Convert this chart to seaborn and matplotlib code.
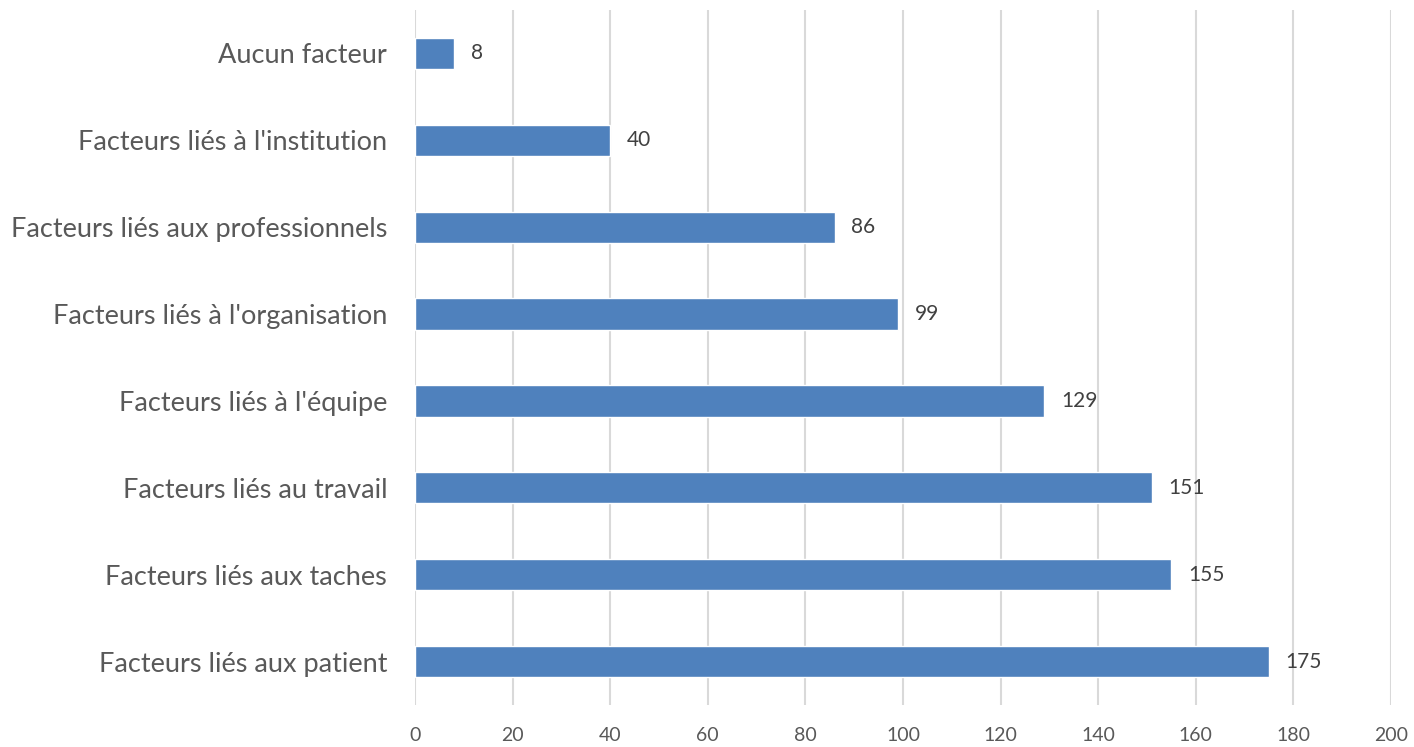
import matplotlib
matplotlib.use("Agg")
import matplotlib.pyplot as plt
import seaborn as sns
import pandas as pd

categories = [
    "Aucun facteur",
    "Facteurs liés à l'institution",
    "Facteurs liés aux professionnels",
    "Facteurs liés à l'organisation",
    "Facteurs liés à l'équipe",
    "Facteurs liés au travail",
    "Facteurs liés aux taches",
    "Facteurs liés aux patient",
]
values = [8, 40, 86, 99, 129, 151, 155, 175]
xticks = [0, 20, 40, 60, 80, 100, 120, 140, 160, 180, 200]

sns.set_theme(style="white")
plt.rcParams['font.family'] = ['Lato', 'DejaVu Sans']

df = pd.DataFrame({"cat": categories, "val": values})

fig = plt.figure(figsize=(14.14, 7.47), dpi=100)
ax = fig.add_axes([0.2935, 0.0562, 0.6902, 0.9304])
sns.barplot(data=df, y="cat", x="val", orient="h", color="#4F81BD",
            width=0.36, saturation=1, ax=ax, zorder=3)

ax.set_xlim(0, 200)
ax.set_xticks(xticks)
ax.set_xticklabels([str(t) for t in xticks], fontsize=14, color="#595959")
ax.tick_params(axis="y", labelsize=19.5, labelcolor="#595959", length=0, pad=20)
ax.tick_params(axis="x", length=0, pad=16)
ax.xaxis.grid(True, color="#D9D9D9", linewidth=1.5, zorder=0)
ax.yaxis.grid(False)
for s in ax.spines.values():
    s.set_visible(False)
ax.set_xlabel("")
ax.set_ylabel("")

for c in ax.containers:
    ax.bar_label(c, labels=[str(v) for v in values], padding=12,
                 fontsize=15, color="#404040")

fig.savefig("out.png", dpi=100)
